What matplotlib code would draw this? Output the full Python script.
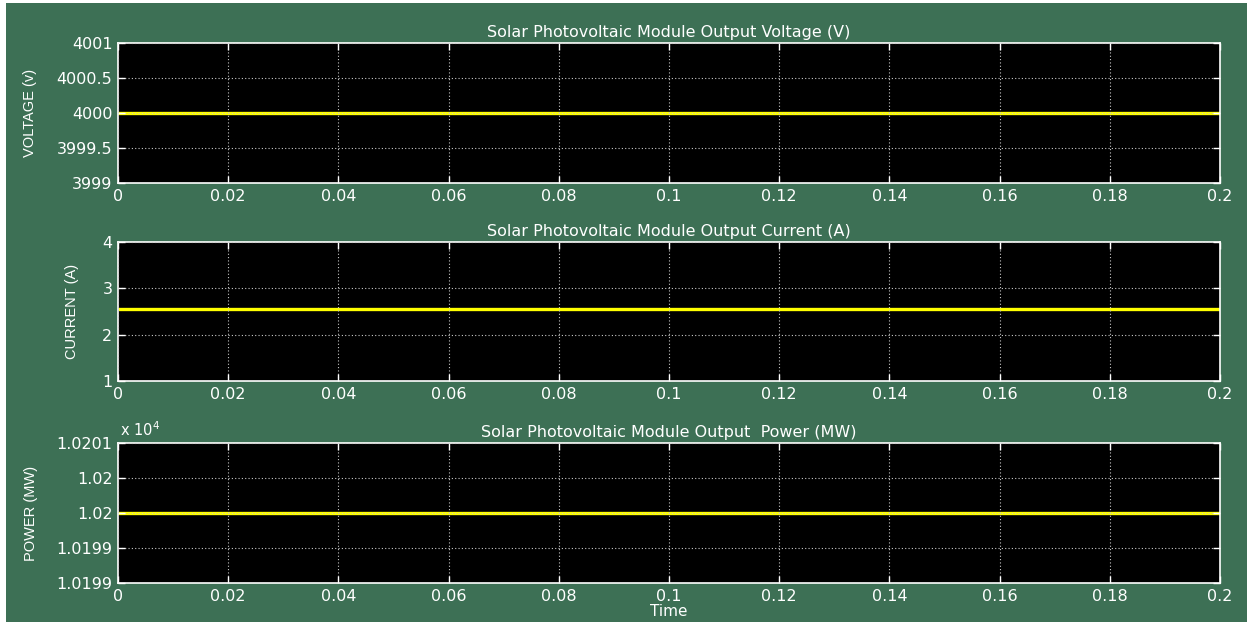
import matplotlib
matplotlib.use("Agg")
import matplotlib.pyplot as plt
from matplotlib.patches import Rectangle
from matplotlib.ticker import FixedLocator, FixedFormatter

# Simulation time span (s)
time = [0.0, 0.2]

# Module outputs over the run
voltage = [4000.0, 4000.0]     # V
current = [2.55, 2.55]         # A
power = [10200.0, 10200.0]     # MW (shown in units of 1e4)

# Axis ticks and labels
time_ticks = [0, 0.02, 0.04, 0.06, 0.08, 0.1, 0.12, 0.14, 0.16, 0.18, 0.2]
time_tick_labels = ["0", "0.02", "0.04", "0.06", "0.08", "0.1",
                    "0.12", "0.14", "0.16", "0.18", "0.2"]
voltage_ticks = [3999, 3999.5, 4000, 4000.5, 4001]
voltage_tick_labels = ["3999", "3999.5", "4000", "4000.5", "4001"]
current_ticks = [1, 2, 3, 4]
current_tick_labels = ["1", "2", "3", "4"]
power_ticks = [10199, 10199.5, 10200, 10200.5, 10201]
power_tick_labels = ["1.0199", "1.0199", "1.02", "1.02", "1.0201"]

titles = ["Solar Photovoltaic Module Output Voltage (V)",
          "Solar Photovoltaic Module Output Current (A)",
          "Solar Photovoltaic Module Output  Power (MW)"]
ylabels = ["VOLTAGE (v)", "CURRENT (A)", "POWER (MW)"]

W, H = 1253, 622
BG = "#3d7055"
fig = plt.figure(figsize=(W / 100, H / 100), dpi=100, facecolor="white")
fig.patches.append(Rectangle((6 / W, 0), 1 - 12 / W, 1 - 3 / H,
                             transform=fig.transFigure, facecolor=BG,
                             edgecolor="none", zorder=-10))

left, right = 118, 1220
panels = [(43, 183), (242, 381), (443, 583)]
label_x = [30, 72, 31]

series = [voltage, current, power]
yticks = [voltage_ticks, current_ticks, power_ticks]
ytick_labels = [voltage_tick_labels, current_tick_labels, power_tick_labels]

for i, (top, bottom) in enumerate(panels):
    ax = fig.add_axes([left / W, 1 - bottom / H, (right - left) / W, (bottom - top) / H])
    ax.set_facecolor("black")
    ax.plot(time, series[i], color="#ffff00", lw=2.4, solid_capstyle="butt")
    ax.set_xlim(time[0], time[-1])
    ax.set_ylim(yticks[i][0], yticks[i][-1])
    ax.xaxis.set_major_locator(FixedLocator(time_ticks))
    ax.xaxis.set_major_formatter(FixedFormatter(time_tick_labels))
    ax.yaxis.set_major_locator(FixedLocator(yticks[i]))
    ax.yaxis.set_major_formatter(FixedFormatter(ytick_labels[i]))
    ax.grid(True, color="#c8c8c8", linestyle=(0, (1, 2)), linewidth=0.8)
    ax.set_axisbelow(False)
    for sp in ax.spines.values():
        sp.set_color("white")
        sp.set_linewidth(1.2)
    ax.tick_params(direction="in", length=5, width=1, color="white",
                   top=True, right=True, labelcolor="white", labelsize=11.5)
    ax.tick_params(axis="x", pad=4)
    ax.tick_params(axis="y", pad=4)
    for lab in ax.get_xticklabels() + ax.get_yticklabels():
        lab.set_family("DejaVu Sans")
    ax.set_title(titles[i], color="white", fontsize=11.5, pad=4,
                 family="DejaVu Sans")
    ax.set_ylabel(ylabels[i], color="white", fontsize=10.5,
                  family="Liberation Sans")
    ax.yaxis.set_label_coords((label_x[i] - left) / (right - left), 0.5)
    ax.yaxis.label.set_verticalalignment("center")
    if i == 2:
        ax.set_xlabel("Time", color="white", fontsize=11,
                      family="DejaVu Sans", labelpad=0)
        ax.text(0.002, 1.03, r"x 10$^{4}$", transform=ax.transAxes,
                color="white", fontsize=10.5, ha="left", va="bottom")

fig.savefig("out.png", dpi=100, facecolor=fig.get_facecolor())
